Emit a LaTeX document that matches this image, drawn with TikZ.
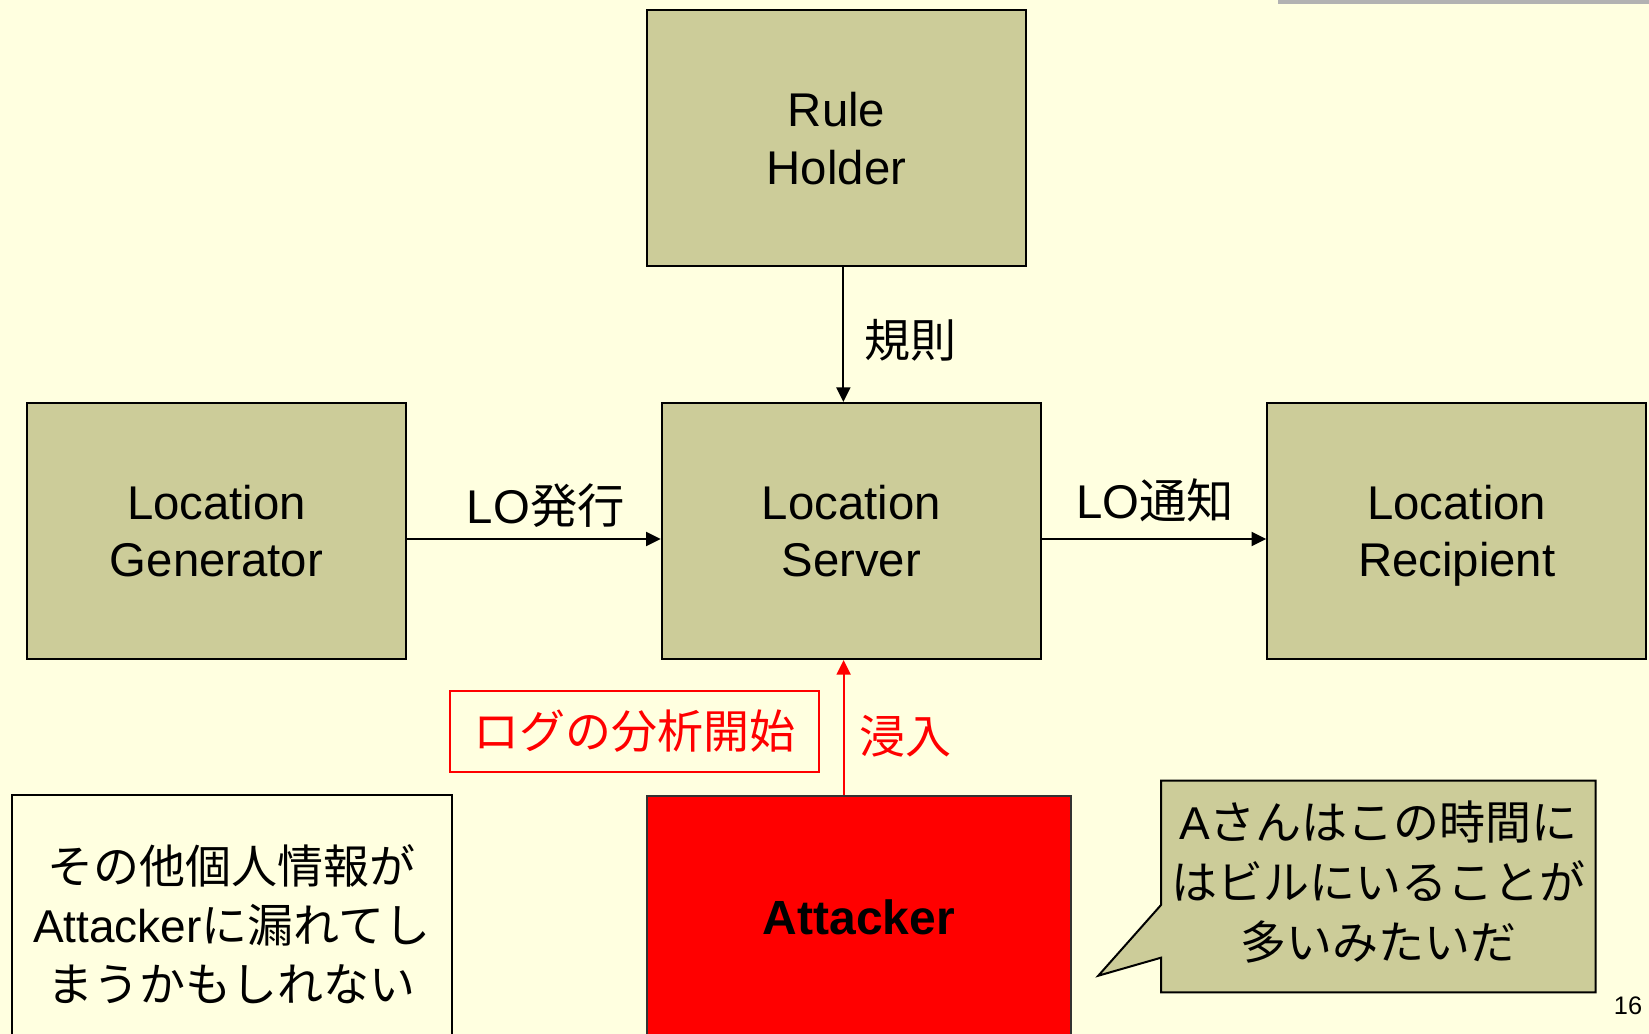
\documentclass[tikz,border=0pt]{standalone}
\usepackage{fontspec}
\setmainfont{Liberation Sans}
\newfontfamily\cjk{Noto Sans CJK JP}
\usetikzlibrary{arrows.meta}
\definecolor{bgyellow}{HTML}{FFFFE0}
\definecolor{khaki}{HTML}{CCCC99}
\definecolor{barGray}{HTML}{B2B2B2}
\begin{document}
\begin{tikzpicture}[x=0.75pt,y=-0.75pt,
  box/.style={draw=black, line width=1.5pt, fill=khaki, inner sep=0pt,
    minimum width=284.25pt, minimum height=192pt, align=center, text depth=0pt,
    font=\fontsize{35.5}{43.1}\selectfont},
  lbl/.style={inner sep=0pt, font=\fontsize{34.5}{43.1}\selectfont},
  lolbl/.style={inner sep=0pt, font=\fontsize{35.5}{43.1}\selectfont},
  arr/.style={line width=1.5pt, -{Triangle[length=11pt,width=10.5pt]}},
  redbox/.style={draw=red, line width=1.5pt, text=red, inner sep=0pt,
    minimum width=276.4pt, minimum height=60.5pt,
    font=\cjk\fontsize{34.5}{43.1}\selectfont},
  notebox/.style={draw=black, line width=1.5pt, fill=bgyellow, inner sep=0pt,
    minimum width=330pt, minimum height=192pt, align=center, text depth=0pt,
    font=\cjk\fontsize{34.5}{44}\selectfont}
]
\fill[bgyellow] (0,0) rectangle (1649,1034);
\useasboundingbox (0,0) rectangle (1649,1034);
\fill[barGray] (1278,0) rectangle (1649,4);

% main boxes
\node[box] (rule)   at (836.5,138.5) {Rule\\Holder};
\node[box] (server) at (851.2,531)   {Location\\Server};
\node[box] (gen)    at (216.5,531)   {Location\\Generator};
\node[box] (recip)  at (1456.7,531)  {Location\\Recipient};

% connectors
\coordinate (ruleX) at (843.4,0);
\coordinate (hY) at (0,539);
\draw[arr] (rule.south -| ruleX) -- (server.north -| ruleX);
\draw[arr] (gen.east |- hY) -- (server.west |- hY);
\draw[arr] (server.east |- hY) -- (recip.west |- hY);

% labels
\node[lolbl, anchor=base] (lohakko) at (545.8,523.3) {LO{\cjk 発行}};
\node[lolbl, anchor=base] (lotsuchi) at (1155,518.3) {LO{\cjk 通知}};
\node[lbl] (kisoku) at (910,340) {\cjk 規則};

% attacker
\node[draw=black!80, fill=red, line width=1.5pt, inner sep=0pt,
  minimum width=318.2pt, minimum height=181.5pt,
  font=\bfseries\fontsize{36}{42}\selectfont] (att) at (858.8,917) {Attacker};
\coordinate (redX) at (843.6,0);
\draw[arr, red] (att.north -| redX) -- (server.south -| redX);
\node[redbox] (logbox) at (634.5,731.6) {ログの分析開始};
\node[lbl, text=red] (shinnyu) at (905.7,736) {\cjk 浸入};

% note box
\node[notebox] (note) at (231.7,923)
  {その他個人情報が\\{\rmfamily Attacker}に漏れてし\\まうかもしれない};

% callout
\filldraw[fill=khaki, line width=1.5pt] (1161,780.7) -- (1595.7,780.7) -- (1595.7,992.3)
  -- (1161,992.3) -- (1161,957.7) -- (1098.3,975.7) -- (1161,905) -- cycle;
\node[inner sep=0pt, align=center, text depth=0pt, font=\cjk\fontsize{34.5}{45}\selectfont]
  (callout) at (1378.4,880) {{\rmfamily A}さんはこの時間に\\はビルにいることが\\多いみたいだ};

% page number
\node[inner sep=0pt, font=\fontsize{19}{22}\selectfont] (pnum) at (1628,1006) {16};
\end{tikzpicture}
\end{document}
